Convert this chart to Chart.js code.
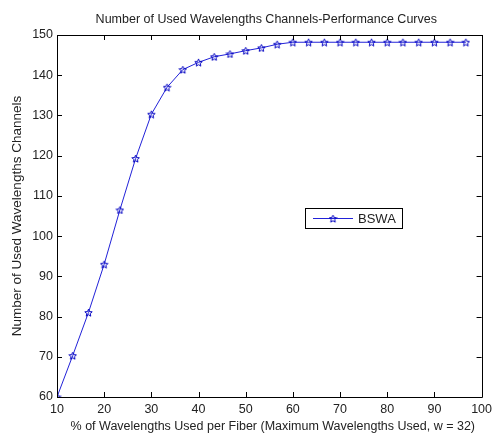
<!DOCTYPE html>
<html>
<head>
<meta charset="utf-8">
<script src="https://cdn.jsdelivr.net/npm/chart.js@4.4.1/dist/chart.umd.min.js"></script>
<style>
  html, body { margin: 0; padding: 0; background: #ffffff; }
  #wrap { width: 497px; height: 433px; }
</style>
</head>
<body>
<div id="wrap"><canvas id="c" width="497" height="433"></canvas></div>
<script>
// Percentage of wavelengths used per fiber (k/30 of the maximum, k = 3..29)
const percentUsed = [
  10, 13.33, 16.67, 20, 23.33, 26.67, 30, 33.33, 36.67, 40,
  43.33, 46.67, 50, 53.33, 56.67, 60, 63.33, 66.67, 70, 73.33,
  76.67, 80, 83.33, 86.67, 90, 93.33, 96.67
];
// Number of used wavelength channels, BSWA
const bswaChannels = [
  60, 70.3, 81, 93, 106.5, 119.3, 130.3, 137, 141.4, 143.2,
  144.6, 145.3, 146.1, 146.8, 147.7, 148.2, 148.2, 148.2, 148.2, 148.2,
  148.2, 148.2, 148.2, 148.2, 148.2, 148.2, 148.2
];
const xTicks = [10, 20, 30, 40, 50, 60, 70, 80, 90, 100];
const yTicks = [60, 70, 80, 90, 100, 110, 120, 130, 140, 150];

const chartTitle = 'Number of Used Wavelengths Channels-Performance Curves';
const xTitle = '% of Wavelengths Used per Fiber (Maximum Wavelengths Used, w = 32)';
const yTitle = 'Number of Used Wavelengths Channels';
const seriesName = 'BSWA';

const FONT = '"Liberation Sans", Arial, Helvetica, sans-serif';
const LINE = '#2222d8';
const TEXT = '#222222';

// Five-pointed star outline used as the marker
function makePentagram(size, color) {
  const cv = document.createElement('canvas');
  cv.width = size; cv.height = size;
  const g = cv.getContext('2d');
  const cx = size / 2, cy = size / 2;
  const R = size / 2 - 0.6, r = R * 0.45;
  g.beginPath();
  for (let i = 0; i < 10; i++) {
    const rad = i % 2 === 0 ? R : r;
    const a = -Math.PI / 2 + i * Math.PI / 5;
    const px = cx + rad * Math.cos(a), py = cy + rad * Math.sin(a) + 0.5;
    if (i === 0) g.moveTo(px, py); else g.lineTo(px, py);
  }
  g.closePath();
  g.strokeStyle = color;
  g.lineWidth = 1;
  g.stroke();
  return cv;
}
const star = makePentagram(9, '#0000c0');

// Axes box, inward tick marks on all four sides, titles and legend
const frame = {
  id: 'frame',
  afterDraw(chart) {
    const { ctx, chartArea: a, scales: { x, y } } = chart;
    const tl = 5;
    ctx.save();
    ctx.strokeStyle = '#000';
    ctx.lineWidth = 1;
    ctx.beginPath();
    ctx.rect(Math.round(a.left) + 0.5, Math.round(a.top) + 0.5,
             Math.round(a.right - a.left), Math.round(a.bottom - a.top));
    ctx.stroke();
    ctx.beginPath();
    xTicks.forEach(v => {
      const px = Math.round(x.getPixelForValue(v)) + 0.5;
      ctx.moveTo(px, a.bottom); ctx.lineTo(px, a.bottom - tl);
      ctx.moveTo(px, a.top); ctx.lineTo(px, a.top + tl);
    });
    yTicks.forEach(v => {
      const py = Math.round(y.getPixelForValue(v)) + 0.5;
      ctx.moveTo(a.left, py); ctx.lineTo(a.left + tl, py);
      ctx.moveTo(a.right, py); ctx.lineTo(a.right - tl, py);
    });
    ctx.stroke();

    // chart title
    ctx.fillStyle = TEXT;
    ctx.font = '12.5px ' + FONT;
    ctx.textAlign = 'center';
    ctx.textBaseline = 'middle';
    ctx.fillText(chartTitle, (a.left + a.right) / 2 - 3, 20);

    // x axis title
    ctx.fillText(xTitle, (a.left + a.right) / 2 + 3.5, 427);

    // legend
    const lx = 305, ly = 208, lw = 97, lh = 20;
    ctx.fillStyle = '#fff';
    ctx.fillRect(lx, ly, lw, lh);
    ctx.strokeStyle = '#000';
    ctx.strokeRect(lx + 0.5, ly + 0.5, lw, lh);
    ctx.strokeStyle = LINE;
    ctx.beginPath();
    ctx.moveTo(313, ly + 10.5); ctx.lineTo(353, ly + 10.5);
    ctx.stroke();
    ctx.drawImage(star, 333 - star.width / 2, ly + 10.5 - star.height / 2);
    ctx.fillStyle = TEXT;
    ctx.textAlign = 'left';
    ctx.font = '13px ' + FONT;
    ctx.fillText(seriesName, 358, ly + 11);
    ctx.restore();
  }
};

new Chart(document.getElementById('c'), {
  type: 'line',
  data: {
    datasets: [{
      label: seriesName,
      data: percentUsed.map((p, i) => ({ x: p, y: bswaChannels[i] })),
      borderColor: LINE,
      borderWidth: 1,
      tension: 0,
      fill: false,
      pointStyle: star,
      pointRadius: 4,
      pointHoverRadius: 4
    }]
  },
  options: {
    responsive: false,
    animation: false,
    devicePixelRatio: 1,
    layout: { padding: { left: 0, top: 35, right: 12, bottom: 0 } },
    plugins: { legend: { display: false }, title: { display: false }, tooltip: { enabled: false } },
    scales: {
      x: {
        type: 'linear', min: 10, max: 100,
        afterFit(s) { s.height = 36; },
        afterBuildTicks(s) { s.ticks = xTicks.map(v => ({ value: v })); },
        grid: { display: false, drawTicks: false },
        border: { display: false },
        ticks: { padding: 5, color: TEXT, font: { family: FONT, size: 12.5 }, maxRotation: 0, autoSkip: false },
        title: { display: false }
      },
      y: {
        type: 'linear', min: 60, max: 150,
        afterFit(s) { s.width = 57; },
        afterBuildTicks(s) { s.ticks = yTicks.map(v => ({ value: v })); },
        grid: { display: false, drawTicks: false },
        border: { display: false },
        ticks: { padding: 4, color: TEXT, font: { family: FONT, size: 12.5 }, autoSkip: false },
        title: { display: true, text: yTitle, color: TEXT, font: { family: FONT, size: 13.5, lineHeight: 1 }, padding: { top: 11, bottom: 0 } }
      }
    }
  },
  plugins: [frame]
});
</script>
</body>
</html>
